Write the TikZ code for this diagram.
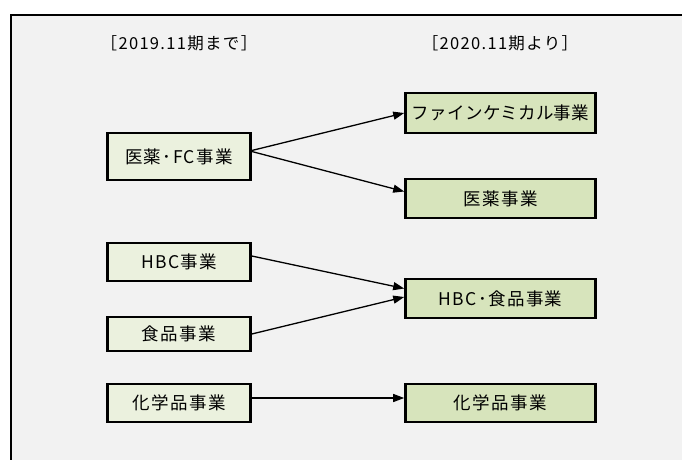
\documentclass[tikz,border=0pt]{standalone}
\usepackage{fontspec}
\setmainfont{Noto Sans CJK JP}[LetterSpace=8]
\usetikzlibrary{arrows.meta,calc}
\definecolor{bgc}{HTML}{F2F2F2}
\definecolor{oldc}{HTML}{EBF1DE}
\definecolor{newc}{HTML}{D7E4BC}
\tikzset{
  oldbox/.style={draw=black,line width=2.6pt,fill=oldc,minimum width=143pt,minimum height=#1,inner sep=0pt,font=\fontsize{17.5}{19}\selectfont},
  newbox/.style={draw=black,line width=2.6pt,fill=newc,minimum width=190pt,minimum height=#1,inner sep=0pt,font=\fontsize{17.5}{19}\selectfont},
  hdr/.style={font=\fontsize{16.5}{18}\selectfont,inner sep=0pt},
  arr/.style={line width=1.3pt,-{Triangle[length=11pt,width=8pt]}}
}
\begin{document}
\begin{tikzpicture}[x=1pt,y=-1pt]
\useasboundingbox (0,0) rectangle (682,460);
\fill[white] (0,0) rectangle (682,460);
\fill[bgc] (11,15) rectangle (690,470);
\draw[line width=2.6pt] (11,470) -- (11,15) -- (690,15);
\node[hdr] (h1) at (179,43) {［2019.11期まで］};
\node[hdr] (h2) at (500,43) {［2020.11期より］};
\node[oldbox=47pt] (med) at (179,156.5) {医薬･FC事業};
\node[oldbox=38pt] (hbc) at (179,262) {HBC事業};
\node[oldbox=34pt] (food) at (179,334) {食品事業};
\node[oldbox=38pt] (chem) at (179,403) {化学品事業};
\node[newbox=40pt] (fine) at (500.5,113) {\addfontfeature{LetterSpace=2}ファインケミカル事業};
\node[newbox=39pt] (pharm) at (500.5,198.5) {医薬事業};
\node[newbox=39pt] (hf) at (500.5,298.5) {HBC･食品事業};
\node[newbox=38pt] (chem2) at (500.5,403) {化学品事業};
\draw[arr] ([yshift=6pt]med.east) -- (fine.west);
\draw[arr] ([yshift=5pt]med.east) -- ([yshift=7pt]pharm.west);
\draw[arr] ([yshift=6pt]hbc.east) -- ([yshift=10pt]hf.west);
\draw[arr] (food.east) -- ([yshift=1.5pt]hf.west);
\draw[arr] ([yshift=5pt]chem.east) -- ([yshift=5pt]chem2.west);
\end{tikzpicture}
\end{document}
